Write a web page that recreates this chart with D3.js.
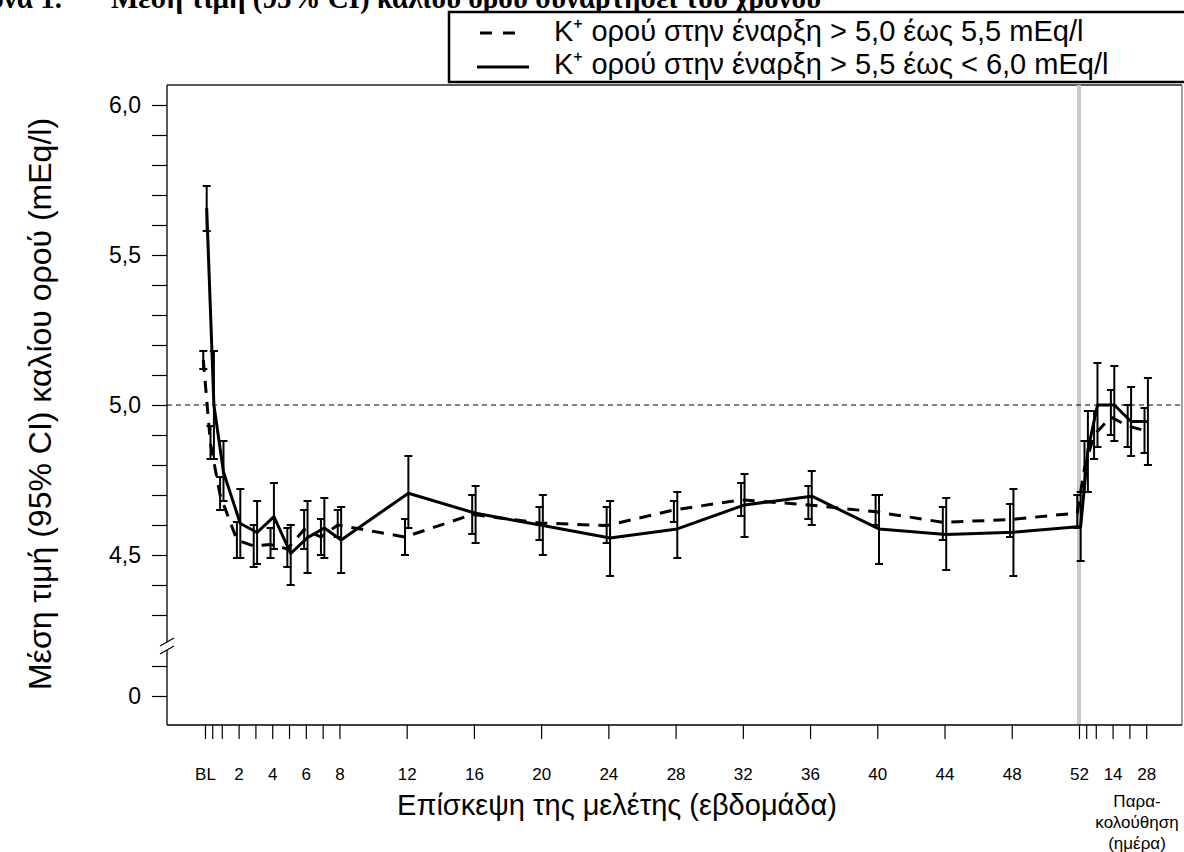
<!DOCTYPE html>
<html>
<head>
<meta charset="utf-8">
<script src="https://cdn.jsdelivr.net/npm/d3@7"></script>
<style>
  body { margin: 0; background: #fff; }
  svg { display: block; font-family: "Liberation Sans", Arial, sans-serif; }
  .axis path { display: none; }
  .axis line { stroke: #000; stroke-width: 1.2; }
  .axis text { fill: #000; }
</style>
</head>
<body>
<svg id="chart" width="1184" height="852"></svg>
<script>
// visits (weeks; follow-up days placed after week 52)
var visits = ["BL", "D3", "W1", "W2", "W3", "W4", "W5", "W6", "W7", "W8", "W12", "W16", "W20", "W24",
  "W28", "W32", "W36", "W40", "W44", "W48", "W52", "FU3", "FU7", "FU14", "FU21", "FU28"];
var weeks = [0, 0.43, 1, 2, 3, 4, 5, 6, 7, 8, 12, 16, 20, 24, 28, 32, 36, 40, 44, 48, 52,
  52.43, 53, 54, 55, 56];
var tickLabels = ["BL", "", "", "2", "", "4", "", "6", "", "8", "12", "16", "20", "24", "28", "32",
  "36", "40", "44", "48", "52", "", "", "14", "", "28"];

// K+ at start > 5.0 to 5.5 (dashed)
var lowMean = [5.15, 4.87, 4.70, 4.55, 4.53, 4.535, 4.52, 4.585, 4.56, 4.60, 4.56, 4.635, 4.607, 4.598,
  4.65, 4.684, 4.667, 4.644, 4.609, 4.618, 4.64, 4.79, 4.90, 4.96, 4.93, 4.915];
var lowLo = [5.12, 4.82, 4.65, 4.49, 4.46, 4.49, 4.46, 4.52, 4.50, 4.56, 4.50, 4.57, 4.55, 4.54,
  4.61, 4.63, 4.62, 4.60, 4.55, 4.56, 4.59, 4.71, 4.82, 4.90, 4.86, 4.84];
var lowHi = [5.18, 4.93, 4.76, 4.61, 4.60, 4.59, 4.59, 4.65, 4.62, 4.65, 4.62, 4.70, 4.66, 4.66,
  4.68, 4.74, 4.73, 4.70, 4.66, 4.67, 4.70, 4.88, 4.98, 5.05, 5.00, 4.99];

// K+ at start > 5.5 to < 6.0 (solid)
var highMean = [5.657, 5.00, 4.776, 4.605, 4.575, 4.628, 4.505, 4.558, 4.59, 4.55, 4.706, 4.639, 4.598, 4.557,
  4.587, 4.667, 4.696, 4.587, 4.568, 4.576, 4.595, 4.85, 5.00, 5.00, 4.945, 4.945];
var highLo = [5.58, 4.82, 4.68, 4.49, 4.47, 4.52, 4.40, 4.44, 4.49, 4.44, 4.59, 4.54, 4.50, 4.43,
  4.49, 4.56, 4.60, 4.47, 4.45, 4.43, 4.48, 4.71, 4.86, 4.88, 4.83, 4.80];
var highHi = [5.73, 5.18, 4.88, 4.72, 4.68, 4.74, 4.60, 4.68, 4.69, 4.66, 4.83, 4.73, 4.70, 4.68,
  4.71, 4.77, 4.78, 4.70, 4.69, 4.72, 4.71, 4.98, 5.14, 5.13, 5.06, 5.09];

var yTicks = [4.3, 4.4, 4.5, 4.6, 4.7, 4.8, 4.9, 5.0, 5.1, 5.2, 5.3, 5.4, 5.5, 5.6, 5.7, 5.8, 5.9, 6.0];
var yLabelled = [4.5, 5.0, 5.5, 6.0];
var refValue = 5.0;
var endOfTreatment = 52;

var legendLabels = ["K\u207A ορού στην έναρξη > 5,0 έως 5,5 mEq/l",
  "K\u207A ορού στην έναρξη > 5,5 έως < 6,0 mEq/l"];

var svg = d3.select("#chart");
var plotLeft = 167, plotRight = 1182, plotTop = 85, plotBottom = 725;

var x = d3.scaleLinear().domain([-2.26, 58.13]).range([plotLeft, plotRight]);
var y = d3.scaleLinear().domain([4.2, 6.0]).range([645, 105]);
var yLow = d3.scaleLinear().domain([0, 0.1]).range([696, 666]);
var fmt = d3.formatLocale({decimal: ",", thousands: ".", grouping: [3], currency: ["", "€"]}).format(".1f");

function rows(mean, lo, hi) {
  return weeks.map(function(w, i) {
    return {week: w, mean: mean[i], lo: lo[i], hi: hi[i]};
  });
}
var low = rows(lowMean, lowLo, lowHi);
var high = rows(highMean, highLo, highHi);

// title (cut off at top of page)
var serif = "'Liberation Serif', 'Times New Roman', serif";
svg.append("text").attr("x", 62).attr("y", 8).attr("text-anchor", "end")
  .style("font-family", serif).style("font-weight", "bold")
  .style("font-size", "29px").text("Εικόνα 1.");
svg.append("text").attr("x", 111).attr("y", 8)
  .style("font-family", serif).style("font-weight", "bold")
  .style("font-size", "29px").text("Μέση τιμή (95% CI) καλίου ορού συναρτήσει του χρόνου");

// frame
svg.append("line").attr("x1", plotLeft).attr("x2", plotRight).attr("y1", plotTop).attr("y2", plotTop)
  .attr("stroke", "#222").attr("stroke-width", 1.3);
svg.append("line").attr("x1", plotRight).attr("x2", plotRight).attr("y1", plotTop).attr("y2", plotBottom)
  .attr("stroke", "#666").attr("stroke-width", 1.2);

// end of treatment marker
svg.append("line").attr("x1", x(endOfTreatment)).attr("x2", x(endOfTreatment))
  .attr("y1", plotTop).attr("y2", plotBottom).attr("stroke", "#c8c8c8").attr("stroke-width", 4);

// reference line at 5.0
svg.append("line").attr("x1", plotLeft).attr("x2", plotRight).attr("y1", y(refValue)).attr("y2", y(refValue))
  .attr("stroke", "#000").attr("stroke-width", 1).attr("stroke-dasharray", "5,4");

// y axis
svg.append("g").attr("class", "axis").attr("transform", "translate(" + plotLeft + ",0)")
  .call(d3.axisLeft(y).tickValues(yTicks).tickSize(15).tickPadding(11)
    .tickFormat(function(d) { return yLabelled.some(function(v) { return Math.abs(v - d) < 1e-6; }) ? fmt(d) : ""; }))
  .selectAll("text").style("font-size", "23px");
svg.append("g").attr("class", "axis").attr("transform", "translate(" + plotLeft + ",0)")
  .call(d3.axisLeft(yLow).tickValues([0, 0.1]).tickSize(15).tickPadding(11)
    .tickFormat(function(d) { return d === 0 ? "0" : ""; }))
  .selectAll("text").style("font-size", "23px");

// y axis line with break
svg.append("line").attr("x1", plotLeft).attr("x2", plotLeft).attr("y1", plotTop).attr("y2", 642)
  .attr("stroke", "#000").attr("stroke-width", 1.3);
svg.append("line").attr("x1", plotLeft).attr("x2", plotLeft).attr("y1", 650).attr("y2", plotBottom)
  .attr("stroke", "#000").attr("stroke-width", 1.3);
svg.append("line").attr("x1", plotLeft - 7).attr("x2", plotLeft + 7).attr("y1", 646).attr("y2", 638)
  .attr("stroke", "#000").attr("stroke-width", 1.3);
svg.append("line").attr("x1", plotLeft - 7).attr("x2", plotLeft + 7).attr("y1", 654).attr("y2", 646)
  .attr("stroke", "#000").attr("stroke-width", 1.3);

// x axis
svg.append("g").attr("class", "axis").attr("transform", "translate(0," + plotBottom + ")")
  .call(d3.axisBottom(x).tickValues(weeks).tickSize(14).tickPadding(29)
    .tickFormat(function(d, i) { return tickLabels[i]; }))
  .selectAll("text").style("font-size", "17px");
svg.append("line").attr("x1", plotLeft).attr("x2", plotRight).attr("y1", plotBottom).attr("y2", plotBottom)
  .attr("stroke", "#000").attr("stroke-width", 1.3);

// axis titles
svg.append("text").attr("x", 617).attr("y", 815).attr("text-anchor", "middle")
  .style("font-size", "29px").text("Επίσκεψη της μελέτης (εβδομάδα)");
svg.append("text").attr("transform", "translate(51,404) rotate(-90)").attr("text-anchor", "middle")
  .style("font-size", "32px").text("Μέση τιμή (95% CI) καλίου ορού (mEq/l)");
var fu = svg.append("text").attr("text-anchor", "middle").style("font-size", "17px");
["Παρα-", "κολούθηση", "(ημέρα)"].forEach(function(t, i) {
  fu.append("tspan").attr("x", 1137).attr("y", 807 + i * 21).text(t);
});

// series
function drawSeries(data, dodge, dash) {
  var g = svg.append("g");
  var bars = g.selectAll("g.bar").data(data).enter().append("g").attr("class", "bar")
    .attr("transform", function(d) { return "translate(" + (x(d.week) + dodge) + ",0)"; })
    .attr("stroke", "#000").attr("stroke-width", 2);
  bars.append("line").attr("y1", function(d) { return y(d.lo); }).attr("y2", function(d) { return y(d.hi); });
  bars.append("line").attr("x1", -4).attr("x2", 4)
    .attr("y1", function(d) { return y(d.lo); }).attr("y2", function(d) { return y(d.lo); });
  bars.append("line").attr("x1", -4).attr("x2", 4)
    .attr("y1", function(d) { return y(d.hi); }).attr("y2", function(d) { return y(d.hi); });
  var line = d3.line()
    .x(function(d) { return x(d.week) + dodge; })
    .y(function(d) { return y(d.mean); });
  g.append("path").datum(data).attr("d", line).attr("fill", "none")
    .attr("stroke", "#000").attr("stroke-width", 3).attr("stroke-linejoin", "round")
    .attr("stroke-dasharray", dash);
}
drawSeries(low, -1.7, "12,9");
drawSeries(high, 1.7, null);

// legend
var lg = svg.append("g");
lg.append("rect").attr("x", 449).attr("y", 12).attr("width", 760).attr("height", 70)
  .attr("fill", "#fff").attr("stroke", "#000").attr("stroke-width", 2.5);
lg.append("line").attr("x1", 480).attr("x2", 516).attr("y1", 33).attr("y2", 33)
  .attr("stroke", "#000").attr("stroke-width", 3).attr("stroke-dasharray", "12,11");
lg.append("line").attr("x1", 477).attr("x2", 529).attr("y1", 67).attr("y2", 67)
  .attr("stroke", "#000").attr("stroke-width", 3);
legendLabels.forEach(function(t, i) {
  lg.append("text").attr("x", 554).attr("y", 41 + i * 33).style("font-size", "29px").text(t);
});
</script>
</body>
</html>
